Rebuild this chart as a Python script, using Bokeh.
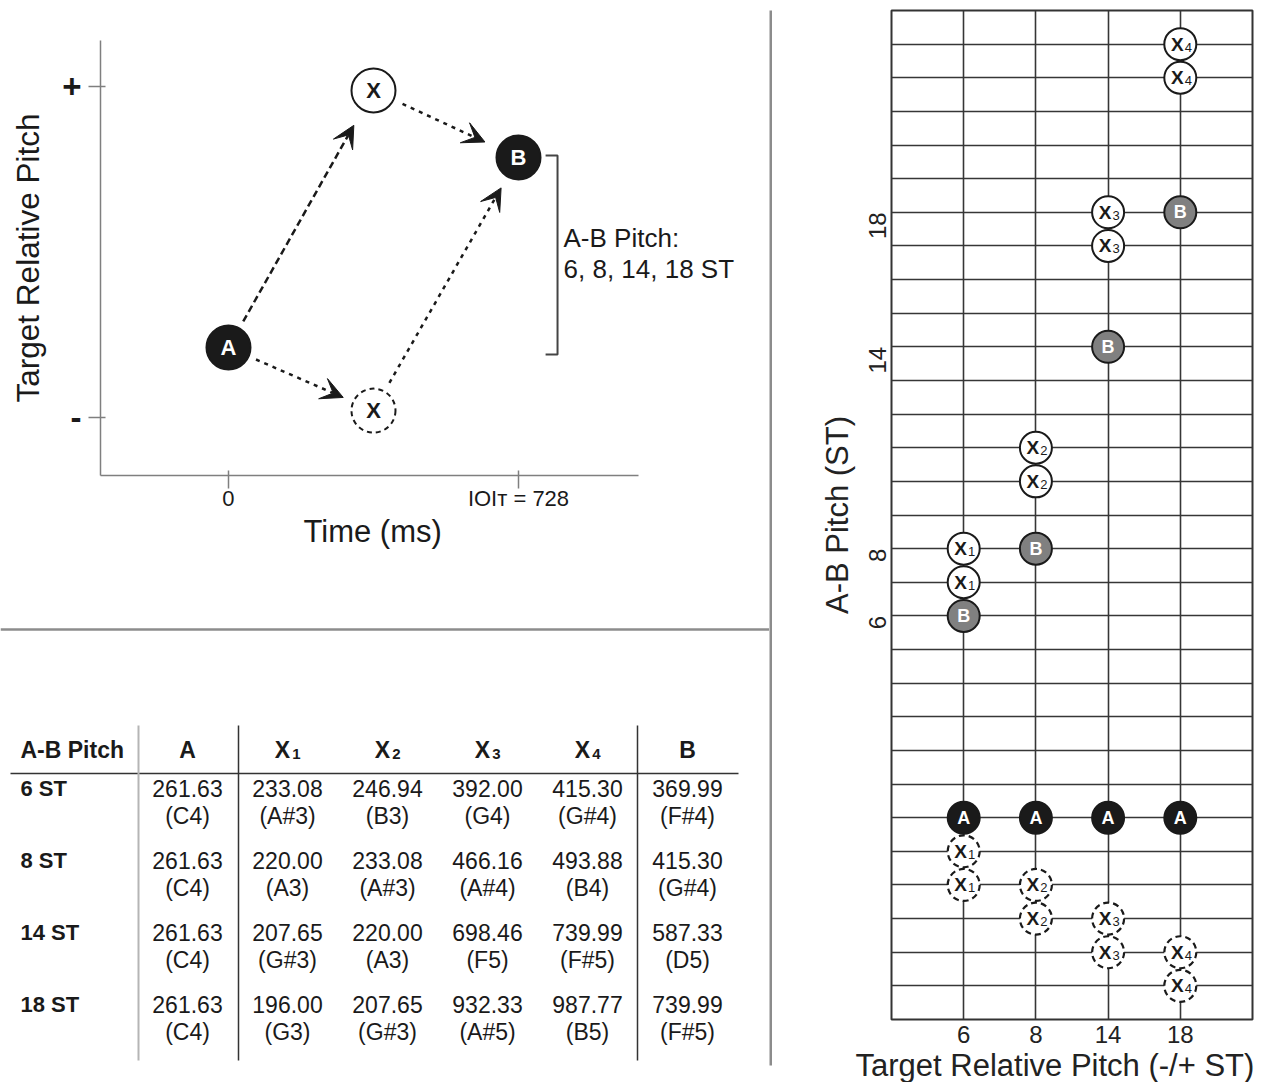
import math
from bokeh.plotting import figure
from bokeh.models import ColumnDataSource, Range1d, FixedTicker, Arrow, VeeHead, Title
from bokeh.layouts import row, column
from bokeh.core.properties import value
from bokeh.embed import file_html
from bokeh.resources import INLINE

FONT = "Liberation Sans"
INK = "#1a1a1a"
AXIS_GRAY = "#7f7f7f"
SEP_GRAY = "#8c8c8c"
GRID = "#363636"

# ---------------- Panel 1 data: schematic of the trial ----------------
sch_names = ["A", "X", "X", "B"]
sch_time = [0, 364, 364, 728]            # ms
sch_pitch = [-0.577, 0.976, -0.958, 0.571]
sch_dashed = [False, False, True, False]
arrow_from = [0, 1, 0, 2]
arrow_to = [1, 3, 2, 3]
arrow_dash = ["7 4", "4 5", "4 5", "4 5"]
arrow_gap_start = [30, 32, 30, 32]      # px
arrow_gap_end = [40, 37, 33, 35]        # px
pitch_ticks = [-1, 1]
pitch_tick_labels = ["-", "+"]
time_ticks = [0, 728]
time_tick_labels = ["0", "IOI\u1d1b = 728"]
bracket_time = 826
bracket_arm = 30
bracket_pitch = [0.583, -0.619]
bracket_note = ["A-B Pitch:", "6, 8, 14, 18 ST"]
bracket_note_time = 841
bracket_note_pitch = [0.082, -0.100]

# ---------------- Panel 2 data: frequency table ----------------
tbl_conditions = ["6 ST", "8 ST", "14 ST", "18 ST"]
tbl_head_main = ["A", "X", "X", "X", "X", "B"]
tbl_head_sub = ["", "1", "2", "3", "4", ""]
tbl_freq = [
    ["261.63", "261.63", "261.63", "261.63"],
    ["233.08", "220.00", "207.65", "196.00"],
    ["246.94", "233.08", "220.00", "207.65"],
    ["392.00", "466.16", "698.46", "932.33"],
    ["415.30", "493.88", "739.99", "987.77"],
    ["369.99", "415.30", "587.33", "739.99"],
]
tbl_note = [
    ["(C4)", "(C4)", "(C4)", "(C4)"],
    ["(A#3)", "(A3)", "(G#3)", "(G3)"],
    ["(B3)", "(A#3)", "(A3)", "(G#3)"],
    ["(G4)", "(A#4)", "(F5)", "(A#5)"],
    ["(G#4)", "(B4)", "(F#5)", "(B5)"],
    ["(F#4)", "(G#4)", "(D5)", "(F#5)"],
]

# ---------------- Panel 3 data: pitch grid ----------------
ab_pitch = [6, 8, 14, 18]
ab_slot = [1, 2, 3, 4]
a_tone = [0, 0, 0, 0]
b_tone = [6, 8, 14, 18]
x_high = [[7, 8], [10, 11], [17, 18], [22, 23]]
x_low = [[-1, -2], [-2, -3], [-3, -4], [-4, -5]]
x_index = ["1", "2", "3", "4"]
grid_tones = list(range(-5, 24))


def no_align(p):
    try:
        p.frame_align = False
    except Exception:
        pass


# ====================== Panel 1 ======================
W_LEFT, H1 = 769, 627
B1L, B1R, B1T, B1B = 100, 0, 40, 152
t_range = (-321.3, 1358.1)
p_range = (-1.350, 1.278)
p1 = figure(width=W_LEFT, height=H1, x_range=Range1d(*t_range), y_range=Range1d(*p_range),
            output_backend="svg", toolbar_location=None,
            min_border_left=B1L, min_border_right=B1R, min_border_top=B1T, min_border_bottom=B1B)
no_align(p1)
p1.grid.visible = False
p1.outline_line_color = None
KX = (W_LEFT - B1L - B1R) / (t_range[1] - t_range[0])
KY = (H1 - B1T - B1B) / (p_range[1] - p_range[0])

for i in range(len(arrow_from)):
    a, b = arrow_from[i], arrow_to[i]
    dxp = (sch_time[b] - sch_time[a]) * KX
    dyp = (sch_pitch[b] - sch_pitch[a]) * KY
    L = math.hypot(dxp, dyp)
    ux, uy = dxp / L, dyp / L
    g0, g1 = arrow_gap_start[i], arrow_gap_end[i]
    p1.add_layout(Arrow(
        end=VeeHead(size=22, fill_color=INK, line_color=INK, line_width=1),
        x_start=sch_time[a] + ux * g0 / KX, y_start=sch_pitch[a] + uy * g0 / KY,
        x_end=sch_time[b] - ux * g1 / KX, y_end=sch_pitch[b] - uy * g1 / KY,
        line_color=INK, line_width=2.5, line_dash=arrow_dash[i]))

fills = ["white" if n == "X" else INK for n in sch_names]
tcols = [INK if n == "X" else "white" for n in sch_names]
for dashed in (False, True):
    idx = [i for i in range(len(sch_names)) if sch_dashed[i] == dashed]
    src = ColumnDataSource(dict(x=[sch_time[i] for i in idx], y=[sch_pitch[i] for i in idx],
                                f=[fills[i] for i in idx]))
    p1.scatter("x", "y", source=src, marker="circle", size=44, fill_color="f",
               line_color=INK, line_width=2, line_dash="5 4" if dashed else "solid")
p1.text(x=sch_time, y=sch_pitch, text=sch_names, text_align="center", text_baseline="middle",
        text_font=value(FONT), text_font_style="bold", text_font_size="22px", text_color=tcols)

p1.line(x=[bracket_time - bracket_arm, bracket_time, bracket_time, bracket_time - bracket_arm],
        y=[bracket_pitch[0], bracket_pitch[0], bracket_pitch[1], bracket_pitch[1]],
        line_color="#444444", line_width=2)
p1.text(x=[bracket_note_time] * 2, y=bracket_note_pitch, text=bracket_note, text_align="left",
        text_baseline="middle", text_font=value(FONT), text_font_size="26px", text_color=INK)

xa = p1.xaxis[0]
xa.ticker = FixedTicker(ticks=time_ticks)
xa.major_label_overrides = dict(zip(time_ticks, time_tick_labels))
xa.bounds = (t_range[0], 1029)
ya = p1.yaxis[0]
ya.ticker = FixedTicker(ticks=pitch_ticks)
ya.major_label_overrides = dict(zip(pitch_ticks, pitch_tick_labels))
for ax in (xa, ya):
    ax.axis_line_color = AXIS_GRAY
    ax.axis_line_width = 1.5
    ax.major_tick_line_color = AXIS_GRAY
    ax.major_tick_line_width = 1.5
    ax.minor_tick_line_color = None
    ax.major_label_text_font = FONT
    ax.major_label_text_color = INK
    ax.axis_label_text_font = FONT
    ax.axis_label_text_font_style = "normal"
    ax.axis_label_text_font_size = "31.5px"
    ax.axis_label_text_color = INK
xa.major_tick_in = 5
xa.major_tick_out = 13
xa.major_label_text_font_size = "22px"
xa.major_label_standoff = -3
xa.axis_label_standoff = 0
ya.major_tick_in = 5
ya.major_tick_out = 12
ya.major_label_text_font_size = "33px"
ya.major_label_text_font_style = "bold"
ya.major_label_standoff = 7
ya.axis_label = "Target Relative Pitch"
ya.axis_label_standoff = 13
p1.add_layout(Title(text="Time (ms)", align="left", vertical_align="top", offset=203, standoff=0,
                    text_font=FONT, text_font_style="normal", text_font_size="31px",
                    text_color=INK), "below")

# ====================== Panel 2: table ======================
H2 = 1082 - H1
p2 = figure(width=W_LEFT, height=H2, x_range=Range1d(-0.87, 6.82), y_range=Range1d(5.083, -1.236),
            output_backend="svg", toolbar_location=None, x_axis_location=None, y_axis_location=None,
            min_border=0, min_border_left=0, min_border_right=0, min_border_top=0, min_border_bottom=0)
no_align(p2)
p2.grid.visible = False
p2.outline_line_color = None
head_r = 0.472
note_dr = 0.375
cols = [1, 2, 3, 4, 5, 6]
rows = [1, 2, 3, 4]
TXT = dict(text_font=value(FONT), text_color=INK)

# separator between the upper and lower left panels
p2.line(x=[-0.87, 6.82], y=[-1.208, -1.208], line_color=SEP_GRAY, line_width=2.5)

p2.text(x=[-0.67], y=[head_r], text=["A-B Pitch"], text_align="left", text_baseline="middle",
        text_font_style="bold", text_font_size="23px", **TXT)
main_off = [-5 if s else 0 for s in tbl_head_sub]
p2.text(x=cols, y=[head_r] * 6, text=tbl_head_main, x_offset=main_off, text_align="center",
        text_baseline="middle", text_font_style="bold", text_font_size="23px", **TXT)
sub_c = [c for c, s in zip(cols, tbl_head_sub) if s]
sub_t = [s for s in tbl_head_sub if s]
p2.text(x=sub_c, y=[head_r] * len(sub_c), text=sub_t, x_offset=9, y_offset=4, text_align="center",
        text_baseline="middle", text_font_style="bold", text_font_size="15px", **TXT)
p2.text(x=[-0.67] * 4, y=rows, text=tbl_conditions, text_align="left", text_baseline="middle",
        text_font_style="bold", text_font_size="22px", **TXT)
vx, vy, vt, nx, ny, nt = [], [], [], [], [], []
for ci, c in enumerate(cols):
    for ri, r in enumerate(rows):
        vx.append(c); vy.append(r); vt.append(tbl_freq[ci][ri])
        nx.append(c); ny.append(r + note_dr); nt.append(tbl_note[ci][ri])
p2.text(x=vx, y=vy, text=vt, text_align="center", text_baseline="middle", text_font_size="23px", **TXT)
p2.text(x=nx, y=ny, text=nt, text_align="center", text_baseline="middle", text_font_size="23px", **TXT)
p2.line(x=[-0.77, 6.51], y=[0.792, 0.792], line_color="#333333", line_width=1.5)
p2.line(x=[0.51, 0.51], y=[0.125, 4.778], line_color="#b5b5b5", line_width=2)
p2.multi_line(xs=[[1.51, 1.51], [5.5, 5.5]], ys=[[0.125, 4.778], [0.125, 4.778]],
              line_color="#333333", line_width=1.5)

# vertical separator
pv = figure(width=3, height=1082, output_backend="svg", toolbar_location=None,
            x_axis_location=None, y_axis_location=None, min_border_left=0, min_border_right=0,
            min_border_top=10, min_border_bottom=17,
            background_fill_color=SEP_GRAY, border_fill_color="white")
no_align(pv)
pv.grid.visible = False
pv.outline_line_color = None

# ====================== Panel 3: grid ======================
W3 = 1267 - W_LEFT - 3
p3 = figure(width=W3, height=1082, x_range=Range1d(0, 5), y_range=Range1d(-6, 24),
            output_backend="svg", toolbar_location=None,
            min_border_left=119, min_border_right=15, min_border_top=10, min_border_bottom=62)
no_align(p3)
p3.outline_line_color = "#333333"
p3.outline_line_width = 2
p3.outline_line_alpha = 1
p3.xgrid.ticker = FixedTicker(ticks=ab_slot)
p3.ygrid.ticker = FixedTicker(ticks=grid_tones)
p3.grid.grid_line_color = GRID
p3.grid.grid_line_width = 1.6
p3.grid.grid_line_alpha = 1

xa3 = p3.xaxis[0]
xa3.ticker = FixedTicker(ticks=ab_slot)
xa3.major_label_overrides = {s: str(v) for s, v in zip(ab_slot, ab_pitch)}
ya3 = p3.yaxis[0]
ya3.ticker = FixedTicker(ticks=b_tone)
ya3.major_label_orientation = math.pi / 2
ya3.axis_label = "A-B Pitch (ST)"
for ax in (xa3, ya3):
    ax.axis_line_color = None
    ax.major_tick_line_color = None
    ax.minor_tick_line_color = None
    ax.major_label_text_font = FONT
    ax.major_label_text_font_size = "24px"
    ax.major_label_text_color = "#222222"
    ax.axis_label_text_font = FONT
    ax.axis_label_text_font_style = "normal"
    ax.axis_label_text_font_size = "31px"
    ax.axis_label_text_color = "#222222"
xa3.major_label_standoff = 0
ya3.major_label_standoff = 8
ya3.axis_label_standoff = 3
p3.add_layout(Title(text="Target Relative Pitch (-/+ ST)", align="left", offset=-36, standoff=0,
                    text_font=FONT, text_font_style="normal", text_font_size="31px",
                    text_color="#222222"), "below")

# markers
hx, hy, hs, lx, ly, ls = [], [], [], [], [], []
for s, hi, lo, k in zip(ab_slot, x_high, x_low, x_index):
    for t in hi:
        hx.append(s); hy.append(t); hs.append(k)
    for t in lo:
        lx.append(s); ly.append(t); ls.append(k)
MS = 32
p3.scatter(x=ab_slot, y=a_tone, marker="circle", size=MS, fill_color=INK, line_color=INK, line_width=2)
p3.scatter(x=ab_slot, y=b_tone, marker="circle", size=MS, fill_color="#808080", line_color=INK, line_width=2)
p3.scatter(x=hx, y=hy, marker="circle", size=MS, fill_color="white", line_color=INK, line_width=2)
p3.scatter(x=lx, y=ly, marker="circle", size=MS, fill_color="white", line_color=INK, line_width=2.2,
           line_dash="6 4")
LBL = dict(text_font=value(FONT), text_baseline="middle", text_align="center")
p3.text(x=ab_slot, y=a_tone, text=["A"] * 4, text_color="white", text_font_style="bold",
        text_font_size="18px", **LBL)
p3.text(x=ab_slot, y=b_tone, text=["B"] * 4, text_color="white", text_font_style="bold",
        text_font_size="18px", **LBL)
allx, ally, alls = hx + lx, hy + ly, hs + ls
p3.text(x=allx, y=ally, text=["X"] * len(allx), x_offset=-3, text_color=INK, text_font_style="bold",
        text_font_size="19px", **LBL)
p3.text(x=allx, y=ally, text=alls, x_offset=8, y_offset=3, text_color=INK,
        text_font_size="13px", **LBL)

layout = row(column(p1, p2), pv, p3)
open("out.html", "w").write(file_html(layout, INLINE))
